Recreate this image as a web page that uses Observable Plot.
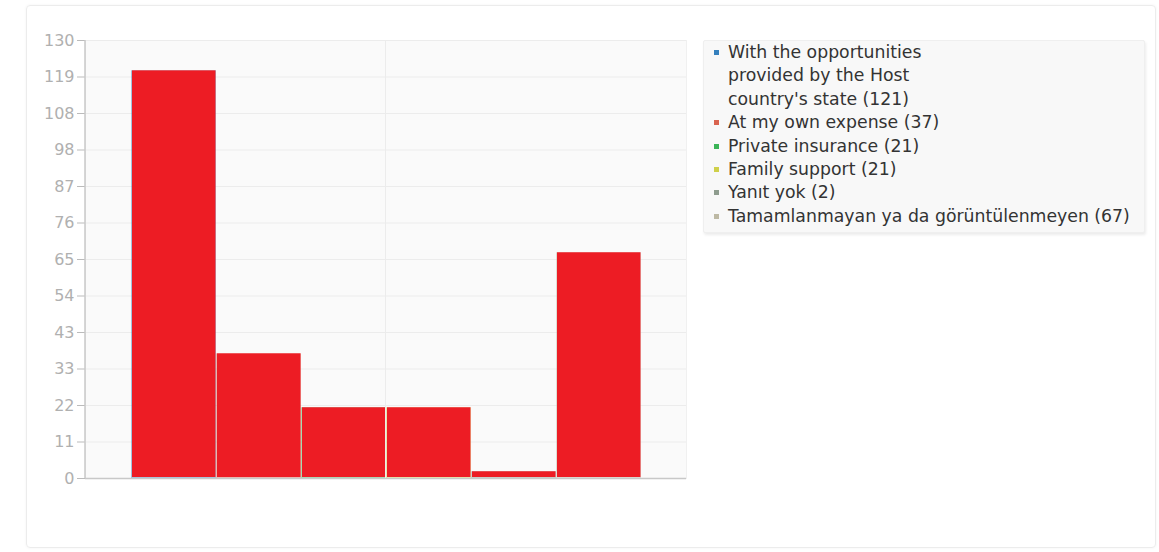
<!DOCTYPE html>
<html>
<head>
<meta charset="utf-8">
<script src="https://cdn.jsdelivr.net/npm/d3@7"></script>
<script src="https://cdn.jsdelivr.net/npm/@observablehq/plot@0.6"></script>
<style>
  html, body { margin: 0; padding: 0; background: #fff; width: 1159px; height: 552px; overflow: hidden; font-family: "DejaVu Sans", sans-serif; }
  #card { position: absolute; left: 26px; top: 5px; width: 1128px; height: 541px; border: 1px solid #ececec; border-radius: 4px; box-shadow: 0 0 3px rgba(0,0,0,0.05); }
  #chart { position: absolute; left: 0; top: 0; }
  #legend { position: absolute; left: 703px; top: 40px; width: 442px; height: 193px; background: #f8f8f8; border: 1px solid #efefef; border-radius: 2px; box-shadow: 1px 2px 3px rgba(0,0,0,0.08); box-sizing: border-box; padding: 0 0 0 10px; }
  .item { display: flex; align-items: flex-start; font-size: 17.3px; color: #333; line-height: 23.4px; white-space: pre-line; }
  .sw { width: 5px; height: 5px; margin: 9px 9px 0 0; flex: none; }
</style>
</head>
<body>
<div id="card"></div>
<div id="chart"></div>
<div id="legend"></div>
<script>
const categories = [
  "With the opportunities\nprovided by the Host\ncountry's state",
  "At my own expense",
  "Private insurance",
  "Family support",
  "Yanıt yok",
  "Tamamlanmayan ya da görüntülenmeyen"
];
const values = [121, 37, 21, 21, 2, 67];
const seriesColors = ["#3580bd", "#d9634f", "#3bb457", "#cfd04a", "#8e9c8e", "#bdb9a4"];
const barColor = "#ed1c24";
const yTickLabels = ["0", "11", "22", "33", "43", "54", "65", "76", "87", "98", "108", "119", "130"];
const yMax = 130;

const data = categories.map((c, i) => ({cat: c, value: values[i], color: seriesColors[i]}));
const tickPos = yTickLabels.map((_, i) => i * yMax / (yTickLabels.length - 1));

const chart = Plot.plot({
  width: 700,
  height: 500,
  marginLeft: 85,
  marginTop: 40,
  marginRight: 14,
  marginBottom: 22,
  style: { fontFamily: "DejaVu Sans, sans-serif", fontSize: "16px", background: "transparent" },
  x: { type: "band", domain: categories, paddingInner: 0, paddingOuter: 0.535, axis: null, label: null },
  y: { domain: [0, yMax], axis: null, label: null },
  marks: [
    Plot.frame({ fill: "#fafafa", stroke: "#f0f0f0" }),
    Plot.ruleY(tickPos, { stroke: "#ececec", strokeWidth: 1 }),
    Plot.barY(data, { x: "cat", y: "value", fill: "color", fillOpacity: 0.45 }),
    Plot.barY(data, { x: "cat", y: "value", fill: barColor, insetLeft: 1, insetRight: 0.5, insetBottom: 1 }),
    Plot.axisY(tickPos, { anchor: "left", label: null, tickFormat: (d, i) => yTickLabels[i], stroke: "#bbb", fill: "#b0b0b0", tickSize: 8, tickPadding: 3, fontSize: 16 }),
    Plot.ruleY([0], { stroke: "#c8c8c8", strokeWidth: 1.5 })
  ]
});
document.getElementById("chart").appendChild(chart);
const svg = d3.select(chart);
svg.append("line").attr("x1", 385.5).attr("x2", 385.5).attr("y1", 40).attr("y2", 478).attr("stroke", "#ececec");
svg.append("line").attr("x1", 85).attr("x2", 85).attr("y1", 40).attr("y2", 478).attr("stroke", "#c8c8c8").attr("stroke-width", 1.5);

const legend = document.getElementById("legend");
categories.forEach((c, i) => {
  const item = document.createElement("div");
  item.className = "item";
  const sw = document.createElement("span");
  sw.className = "sw";
  sw.style.background = seriesColors[i];
  const t = document.createElement("span");
  t.textContent = `${c} (${values[i]})`;
  item.appendChild(sw);
  item.appendChild(t);
  legend.appendChild(item);
});
</script>
</body>
</html>
